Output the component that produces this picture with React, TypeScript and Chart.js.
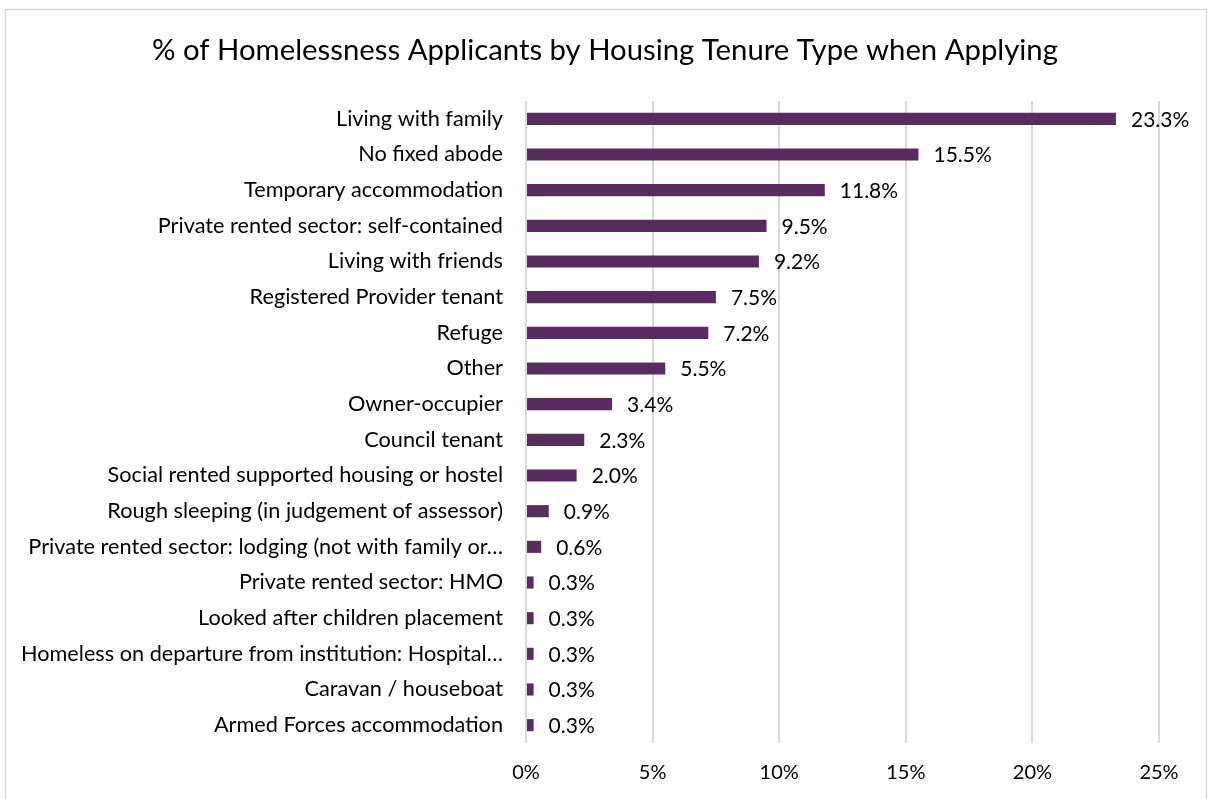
import React, { useEffect, useRef } from "react";
import { Chart, registerables } from "chart.js";

Chart.register(...registerables);

const titleText = "% of Homelessness Applicants by Housing Tenure Type when Applying";

const categories = [
  "Living with family",
  "No fixed abode",
  "Temporary accommodation",
  "Private rented sector: self-contained",
  "Living with friends",
  "Registered Provider tenant",
  "Refuge",
  "Other",
  "Owner-occupier",
  "Council tenant",
  "Social rented supported housing or hostel",
  "Rough sleeping (in judgement of assessor)",
  "Private rented sector: lodging (not with family or…",
  "Private rented sector: HMO",
  "Looked after children placement",
  "Homeless on departure from institution: Hospital…",
  "Caravan / houseboat",
  "Armed Forces accommodation",
];

const shares = [23.3, 15.5, 11.8, 9.5, 9.2, 7.5, 7.2, 5.5, 3.4, 2.3, 2.0, 0.9, 0.6, 0.3, 0.3, 0.3, 0.3, 0.3];

const xTicks = [0, 5, 10, 15, 20, 25];

const FONT = "Lato, 'Open Sans', sans-serif";

const frame = {
  id: "frame",
  beforeDraw(chart: any) {
    const { ctx } = chart;
    ctx.save();
    ctx.fillStyle = "#ffffff";
    ctx.fillRect(0, 0, chart.width, chart.height);
    ctx.strokeStyle = "#d9d9d9";
    ctx.lineWidth = 1.5;
    ctx.strokeRect(5.5, 9.5, chart.width - 9, chart.height + 20);
    ctx.font = `29.3px ${FONT}`;
    ctx.fillStyle = "#000000";
    ctx.textAlign = "center";
    ctx.textBaseline = "middle";
    ctx.fillText(titleText, chart.width / 2, 51);
    ctx.restore();
  },
};

const valueLabels = {
  id: "valueLabels",
  afterDatasetsDraw(chart: any) {
    const { ctx } = chart;
    const meta = chart.getDatasetMeta(0);
    ctx.save();
    ctx.font = `21px ${FONT}`;
    ctx.fillStyle = "#000000";
    ctx.textAlign = "left";
    ctx.textBaseline = "middle";
    meta.data.forEach((bar: any, i: number) => {
      ctx.fillText(shares[i].toFixed(1) + "%", bar.x + 15, bar.y + 1);
    });
    ctx.restore();
  },
};

export default function App() {
  const ref = useRef<HTMLCanvasElement | null>(null);
  useEffect(() => {
    if (!ref.current) return;
    const chart = new Chart(ref.current, {
      type: "bar",
      data: {
        labels: categories,
        datasets: [
          {
            data: shares,
            backgroundColor: "#582c5e",
            barPercentage: 0.68,
            categoryPercentage: 0.5,
          },
        ],
      },
      options: {
        indexAxis: "y",
        animation: false,
        responsive: false,
        maintainAspectRatio: false,
        layout: { padding: { top: 101, right: 51, bottom: 0, left: 0 } },
        plugins: {
          legend: { display: false },
          tooltip: { enabled: false },
          title: { display: false },
        },
        scales: {
          x: {
            min: 0,
            max: 25,
            afterBuildTicks(scale: any) {
              scale.ticks = xTicks.map((v) => ({ value: v }));
            },
            afterFit(scale: any) {
              scale.height = 56;
            },
            ticks: {
              color: "#000000",
              font: { family: FONT, size: 20, lineHeight: 1.2 },
              padding: 18,
              callback: (v: any) => v + "%",
            },
            grid: { color: "#d9d9d9", lineWidth: 2, drawTicks: false },
            border: { display: false },
          },
          y: {
            afterFit(scale: any) {
              scale.width = 526;
            },
            ticks: {
              color: "#000000",
              font: { family: FONT, size: 21.7 },
              padding: 23,
              autoSkip: false,
            },
            grid: { display: false, drawTicks: false },
            border: { display: false },
          },
        },
      },
      plugins: [frame, valueLabels],
    });
    return () => chart.destroy();
  }, []);
  return (
    <div style={{ position: "absolute", left: 0, top: 0, width: 1210, height: 799 }}>
      <canvas ref={ref} width={1210} height={799} style={{ display: "block" }} />
    </div>
  );
}
